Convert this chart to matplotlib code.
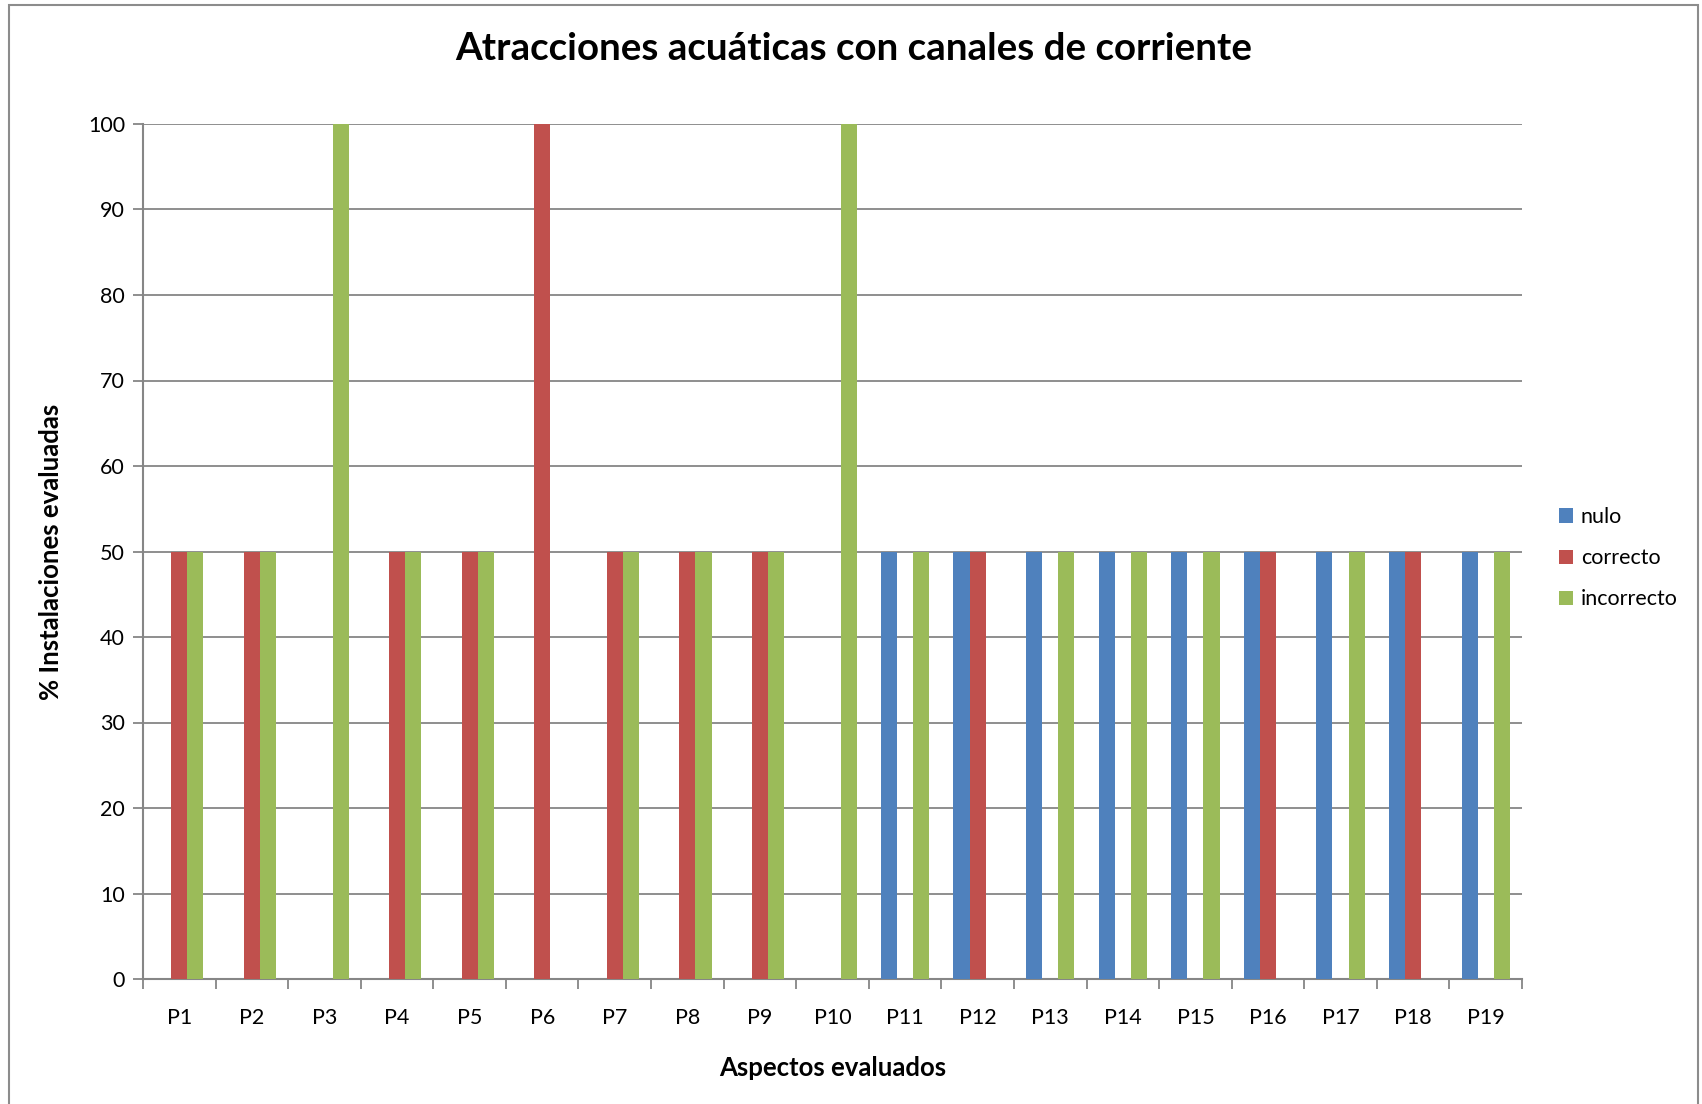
import matplotlib
matplotlib.use("Agg")
import matplotlib.pyplot as plt
import numpy as np
from matplotlib.patches import Rectangle

# ---------------------------------------------------------------------------
# Data
# ---------------------------------------------------------------------------
categories = [f"P{i}" for i in range(1, 20)]

nulo = [0, 0, 0, 0, 0, 0, 0, 0, 0, 0,
        50, 50, 50, 50, 50, 50, 50, 50, 50]
correcto = [50, 50, 0, 50, 50, 100, 50, 50, 50, 0,
            0, 50, 0, 0, 0, 50, 0, 50, 0]
incorrecto = [50, 50, 100, 50, 50, 0, 50, 50, 50, 100,
              50, 0, 50, 50, 50, 0, 50, 0, 50]

series_names = ["nulo", "correcto", "incorrecto"]
series_colors = ["#4F81BD", "#C0504D", "#9BBB59"]

plt.rcParams["font.family"] = ["Lato", "DejaVu Sans"]

W, H = 1702, 1104
fig = plt.figure(figsize=(W / 100, H / 100), dpi=100)

# outer chart frame (Excel style)
fig.patches.append(Rectangle((9 / W, -0.01), (1698 - 9) / W, 1 - 5 / H + 0.01,
                             transform=fig.transFigure, fill=False,
                             edgecolor="#8c8c8c", linewidth=1.5))

ax = fig.add_axes([143 / W, 1 - 979 / H, (1522 - 143) / W, (979 - 124) / H])

x = np.arange(len(categories))
bw = 1 / 4.5
for k, (vals, name, col) in enumerate(zip([nulo, correcto, incorrecto],
                                          series_names, series_colors)):
    ax.bar(x + (k - 1) * bw, vals, width=bw, color=col, label=name,
           zorder=3, linewidth=0)

ax.set_xlim(-0.5, len(categories) - 0.5)
ax.set_ylim(0, 100)
ax.set_yticks(np.arange(0, 101, 10))
ax.grid(axis="y", color="#868686", linewidth=1.3, zorder=0)

ax.set_xticks(x)
ax.set_xticklabels(categories, fontsize=15.5)
ax.set_xticks(np.arange(-0.5, len(categories), 1), minor=True)
ax.tick_params(axis="x", which="major", length=0, pad=21)
ax.tick_params(axis="x", which="minor", length=7, width=1.3,
               color="#868686", direction="out")
ax.tick_params(axis="y", length=7, width=1.3, color="#868686",
               labelsize=15.5, pad=6)

for s in ["top", "right"]:
    ax.spines[s].set_visible(False)
for s in ["left", "bottom"]:
    ax.spines[s].set_color("#868686")
    ax.spines[s].set_linewidth(1.5)

ax.set_ylabel("% Instalaciones evaluadas", fontsize=18.5, fontweight="bold",
              labelpad=18)
ax.set_xlabel("Aspectos evaluados", fontsize=18.5, fontweight="bold",
              labelpad=20)

fig.text(854 / W, 1 - 49 / H, "Atracciones acuáticas con canales de corriente",
         ha="center", va="center", fontsize=27.7, fontweight="bold")

ax.legend(loc="center left", bbox_to_anchor=(1.013, 0.492),
          frameon=False, fontsize=15.5, handlelength=0.65, handleheight=0.65,
          labelspacing=0.98, handletextpad=0.35)

fig.savefig("out.png", dpi=100)
